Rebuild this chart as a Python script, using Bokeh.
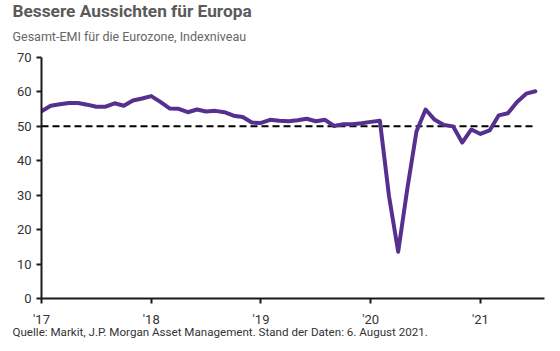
from bokeh.plotting import figure
from bokeh.models import Range1d, FixedTicker, Title
from bokeh.embed import file_html
from bokeh.resources import INLINE

title = "Bessere Aussichten für Europa"
subtitle = "Gesamt-EMI für die Eurozone, Indexniveau"
source_note = "Quelle: Markit, J.P. Morgan Asset Management. Stand der Daten: 6. August 2021."

# monthly composite PMI, Jan 2017 .. Jul 2021
pmi = [
    54.4, 56.0, 56.4, 56.8, 56.8, 56.3, 55.7, 55.7, 56.7, 56.0, 57.5, 58.1,
    58.8, 57.1, 55.2, 55.1, 54.1, 54.9, 54.3, 54.5, 54.1, 53.1, 52.7, 51.1,
    51.0, 51.9, 51.6, 51.5, 51.8, 52.2, 51.5, 51.9, 50.1, 50.6, 50.6, 50.9,
    51.3, 51.6, 29.7, 13.6, 31.9, 48.5, 54.9, 51.9, 50.4, 50.0, 45.3, 49.1,
    47.8, 48.8, 53.2, 53.8, 57.1, 59.5, 60.2,
]
months = list(range(len(pmi)))
year_ticks = [0, 12, 24, 36, 48]
year_labels = ["'17", "'18", "'19", "'20", "'21"]
y_ticks = [0, 10, 20, 30, 40, 50, 60, 70]
threshold = 50

FONT = "Roboto"

p = figure(width=560, height=351, output_backend="svg", toolbar_location=None,
           title=None, x_range=Range1d(0, 55), y_range=Range1d(0, 70),
           min_border_left=41, min_border_right=16, min_border_top=57,
           min_border_bottom=53, background_fill_color="white",
           border_fill_color="white", outline_line_color=None)

p.grid.visible = False

# axes
for ax in (p.xaxis[0], p.yaxis[0]):
    ax.axis_line_color = "#1a1a1a"
    ax.axis_line_width = 2
    ax.major_tick_line_color = "#1a1a1a"
    ax.major_tick_line_width = 2
    ax.major_tick_out = 5
    ax.major_tick_in = 0
    ax.minor_tick_line_color = None
    ax.major_label_text_font = FONT
    ax.major_label_text_font_size = "13px"
    ax.major_label_text_color = "#333333"

p.yaxis.ticker = FixedTicker(ticks=y_ticks)
p.yaxis.major_label_standoff = 5
p.xaxis.ticker = FixedTicker(ticks=year_ticks)
p.xaxis.major_label_overrides = {t: l for t, l in zip(year_ticks, year_labels)}
p.xaxis.major_label_standoff = 8

# threshold line
p.line([months[0], months[-1]], [threshold, threshold], line_color="black",
       line_width=2, line_dash="7 4")

# PMI line
p.line(months, pmi, line_color="#55308f", line_width=4, line_join="round",
       line_cap="round")

# texts
p.add_layout(Title(text=subtitle, align="left", offset=-29, text_font=FONT,
                   text_font_size="12.5px", text_font_style="normal",
                   text_color="#666666", standoff=27), "above")
p.add_layout(Title(text=title, align="left", offset=-29, text_font=FONT,
                   text_font_size="17.3px", text_font_style="bold",
                   text_color="#5a5a5a", standoff=-15), "above")
p.add_layout(Title(text=source_note, align="left", offset=-29, text_font=FONT,
                   text_font_size="11.6px", text_font_style="normal",
                   text_color="#333333", standoff=-18), "below")

open("out.html", "w").write(file_html(p, INLINE))
